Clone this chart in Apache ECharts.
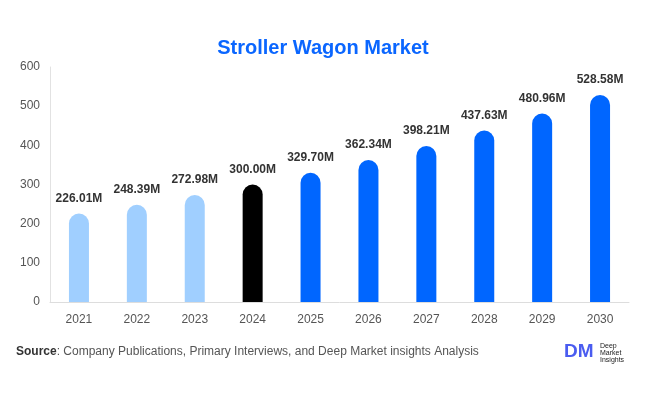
<!DOCTYPE html>
<html><head><meta charset="utf-8">
<script src="https://cdn.jsdelivr.net/npm/echarts@6/dist/echarts.min.js"></script>
<style>html,body{margin:0;padding:0;background:#fff}#c{width:646px;height:394px}</style>
</head><body><div id="c"></div>
<script>
const categories = ['2021','2022','2023','2024','2025','2026','2027','2028','2029','2030'];
const values = [226.01,248.39,272.98,300.00,329.70,362.34,398.21,437.63,480.96,528.58];
const barColors = ['#a0cfff','#a0cfff','#a0cfff','#000000','#0066ff','#0066ff','#0066ff','#0066ff','#0066ff','#0066ff'];
const yTicks = [0,100,200,300,400,500,600];

const chart = echarts.init(document.getElementById('c'), null, {renderer:'canvas'});
chart.setOption({
  animation:false,
  title:{text:'Stroller Wagon Market',left:'center',top:33,textStyle:{color:'#0a66ff',fontSize:20,fontWeight:'bold',fontFamily:'Liberation Sans, Arial'}},
  grid:{left:50,right:17,top:67,bottom:92},
  xAxis:{type:'category',data:categories,axisLine:{lineStyle:{color:'#ddd'}},axisTick:{show:false},
    axisLabel:{color:'#555',fontSize:12,margin:12,fontFamily:'Liberation Sans, Arial'}},
  yAxis:{type:'value',min:yTicks[0],max:yTicks[yTicks.length-1],interval:100,
    axisLine:{show:true,lineStyle:{color:'#e2e2e2'}},splitLine:{show:false},
    axisLabel:{color:'#555',fontSize:12,margin:10,fontFamily:'Liberation Sans, Arial'}},
  series:[{type:'bar',barWidth:20,
    data:values.map((v,i)=>({value:v,itemStyle:{color:barColors[i],borderRadius:[10,10,0,0]}})),
    label:{show:true,position:'top',distance:9,color:'#333',fontWeight:'bold',fontSize:12,fontFamily:'Liberation Sans, Arial',
      formatter:p=>p.value.toFixed(2)+'M'}}],
  graphic:[
    {type:'text',left:16,top:346,style:{rich:{b:{fontWeight:'bold',fill:'#333',fontSize:12,fontFamily:'Liberation Sans, Arial'},n:{fill:'#555',fontSize:12,fontFamily:'Liberation Sans, Arial'}},text:'{b|Source}{n|: Company Publications, Primary Interviews, and Deep Market insights Analysis}'}},
    {type:'text',left:564,top:342,style:{text:'DM',fill:'#4a5cf0',fontSize:19,fontWeight:'bold',fontFamily:'Liberation Sans, Arial'}},
    {type:'text',left:600,top:343,style:{text:'Deep\nMarket\nInsights',fill:'#222',fontSize:7,lineHeight:7,fontFamily:'Liberation Sans, Arial'}}
  ]
});
</script></body></html>
